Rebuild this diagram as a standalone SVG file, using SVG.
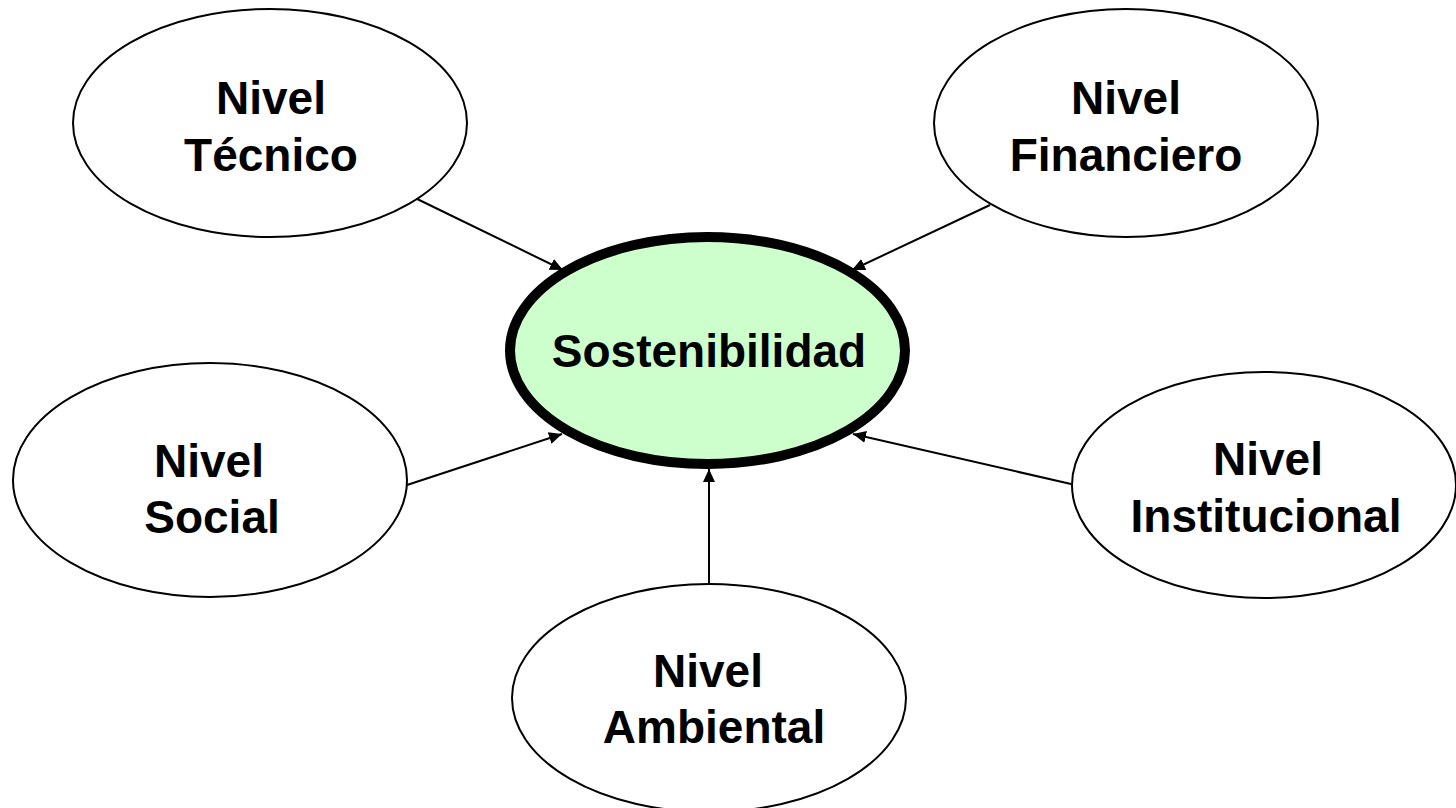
<svg xmlns="http://www.w3.org/2000/svg" width="1456" height="808" viewBox="0 0 1456 808">
<style>
.node{fill:#fff;stroke:#000;stroke-width:2}
.center{fill:#ccffcc;stroke:#000;stroke-width:10}
.lbl{font-family:"Liberation Sans",Arial,sans-serif;font-weight:bold;font-size:46px;fill:#000;text-anchor:middle}
.conn{stroke:#000;stroke-width:2;fill:none;marker-end:url(#arr)}
</style>
<defs>
<marker id="arr" markerUnits="userSpaceOnUse" markerWidth="14" markerHeight="14" viewBox="0 0 14 14" refX="13" refY="7" orient="auto">
<path d="M0,1 L13,7 L0,13 Z" fill="#000"/>
</marker>
</defs>
<rect width="1456" height="808" fill="#fff"/>
<g id="connectors">
<line class="conn" x1="411" y1="196" x2="563" y2="270"/>
<line class="conn" x1="990" y1="205" x2="852" y2="270"/>
<line class="conn" x1="407" y1="485" x2="562" y2="434"/>
<line class="conn" x1="1071" y1="484" x2="853" y2="434"/>
<line class="conn" x1="709" y1="584" x2="709" y2="469"/>
</g>
<g id="sostenibilidad">
<ellipse class="center" cx="707.5" cy="350.5" rx="197.5" ry="113.5"/>
<text class="lbl" x="709" y="367">Sostenibilidad</text>
</g>
<g id="tecnico">
<ellipse class="node" cx="270" cy="123" rx="197" ry="114"/>
<text class="lbl" x="271" y="114">Nivel</text>
<text class="lbl" x="271" y="171">Técnico</text>
</g>
<g id="financiero">
<ellipse class="node" cx="1126" cy="123" rx="192" ry="114"/>
<text class="lbl" x="1126" y="114">Nivel</text>
<text class="lbl" x="1126" y="171">Financiero</text>
</g>
<g id="social">
<ellipse class="node" cx="210" cy="480" rx="197" ry="117"/>
<text class="lbl" x="209" y="477">Nivel</text>
<text class="lbl" x="212" y="533">Social</text>
</g>
<g id="institucional">
<ellipse class="node" cx="1264" cy="485" rx="192" ry="113"/>
<text class="lbl" x="1268" y="475">Nivel</text>
<text class="lbl" x="1266" y="532">Institucional</text>
</g>
<g id="ambiental">
<ellipse class="node" cx="709" cy="698" rx="197" ry="114"/>
<text class="lbl" x="708" y="687">Nivel</text>
<text class="lbl" x="714" y="743">Ambiental</text>
</g>
</svg>
